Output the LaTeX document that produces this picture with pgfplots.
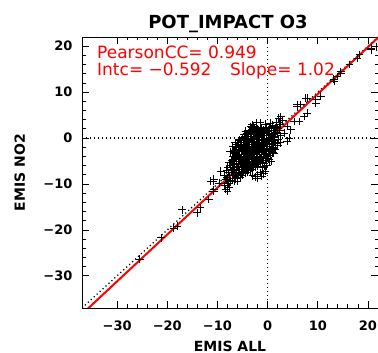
\documentclass[border=0pt]{standalone}
\usepackage{pgfplots}
\pgfplotsset{compat=1.18}
\usepackage{fontspec}
\setmainfont{DejaVu Sans}
\begin{document}
\begin{tikzpicture}[x=1bp,y=1bp]
\begin{axis}[
  at={(82bp,45bp)}, anchor=south west,
  scale only axis, width=296bp, height=271bp,
  xmin=-37, xmax=22, ymin=-37, ymax=22,
  xtick={-30,-20,-10,0,10,20}, ytick={-30,-20,-10,0,10,20},
  xticklabels={−30,−20,−10,0,10,20}, yticklabels={−30,−20,−10,0,10,20},
  minor tick num=4,
  tick align=inside,
  major tick length=7bp, minor tick length=3.5bp,
  axis line style={line width=0.9bp},
  every tick/.style={black, line width=0.8bp},
  ticklabel style={font=\fontsize{13bp}{15bp}\selectfont\bfseries},
  xticklabel style={yshift=-9bp},
  yticklabel style={xshift=-6bp},
  xlabel={EMIS ALL}, ylabel={EMIS NO2},
  label style={font=\fontsize{14bp}{16bp}\selectfont\bfseries},
  xlabel style={at={(rel axis cs:0.5,0)}, anchor=base, yshift=-43bp},
  ylabel style={at={(rel axis cs:0,0.5)}, anchor=base, rotate=0, yshift=57bp},
  clip=true,
]
\addplot[black, line width=1.2bp, dash pattern=on 1.2bp off 2.8bp] coordinates {(0,-37) (0,22)};
\addplot[black, line width=1.2bp, dash pattern=on 1.2bp off 2.8bp] coordinates {(-37,0) (22,0)};
\addplot[black, line width=1.2bp, dash pattern=on 1.2bp off 2.8bp] coordinates {(-37,-37) (22,22)};
\addplot[only marks, mark=+, mark size=3.9bp, mark options={line width=0.9bp, black}] coordinates {
(-25.5,-26.4) (-21.2,-21.7) (-18,-19.2) (-18.7,-19.6) (-17,-15.6) (-14,-16.3) (-13.4,-15.2)
(-11.7,-13.4) (-10.7,-11.2) (-9.7,-9.8)
(-10.8,-9.4) (-8.4,-9) (-8,-11.6) (-6,-9.4) (-10.7,-9) (-11.4,-9.4) (-8.1,-9.8) (-6.7,-9.4)
(-8.4,-11.2) (-10.7,-11.6) (-9.4,-7.2) (-7.7,-5.4)
(-3.1,2.9) (-3.4,2.5) (-4.4,1.5) (-5.7,-0.3) (-6.7,-2.9)
(1.9,-1.1) (3.9,-0.7) (1.2,-3.3) (0.2,-4.6) (-0.7,-6.2) (-2.1,-8.7) (0.9,-2.9) (0.7,-5)
(21.6,19.9) (20.6,19.2) (17.9,17.4) (16.3,16) (14.6,14.1) (13.9,13.4) (13.3,12.3) (10.6,9.1)
(9.6,8.3) (7.9,8.7) (6.6,7.3) (5.9,6.9) (7.9,5.4) (7.3,4.7) (6.3,3.6) (5.3,3.6) (2.6,4.7)
(2.3,3.3) (1.6,2.2) (3.9,2.5) (4.6,1.8) (3.3,1.1) (4.3,0) (5.9,7.3)
(7.6,8.7) (9.6,7.6) (13.2,12.8) (14.6,14.5) (18.3,18.2) (20.6,19.6)
(-8.6,-10.4) (-8.3,-9.1) (-8.7,-8.1) (-8.2,-7.0)
(-7.9,-9.9) (-8.1,-8.6) (-7.8,-7.5) (-8.0,-6.3) (-7.7,-10.8)
(-7.4,-9.5) (-7.6,-8.2) (-7.3,-7.1) (-7.5,-5.9) (-7.2,-4.8)
(-7.0,-9.2) (-6.8,-8.1) (-7.1,-6.8) (-6.9,-5.6) (-7.0,-4.1) (-6.8,-3.1)
(-6.5,-8.9) (-6.6,-7.6) (-6.3,-6.5) (-6.6,-5.1) (-6.4,-4.2) (-6.5,-2.6) (-6.2,-1.8)
(-6.0,-8.7) (-5.9,-7.4) (-6.1,-6.2) (-5.8,-5.0) (-6.0,-3.7) (-5.9,-2.4) (-6.1,-1.3)
(-5.5,-8.5) (-5.6,-7.4) (-5.3,-6.5) (-5.5,-5.2) (-5.4,-4.3) (-5.6,-3.0) (-5.4,-2.0) (-5.5,-0.6)
(-5.0,-8.1) (-4.9,-6.9) (-5.1,-5.7) (-5.0,-4.9) (-4.8,-3.6) (-5.1,-2.3) (-4.9,-1.3) (-5.0,0.1)
(-4.5,-7.6) (-4.4,-6.7) (-4.6,-5.5) (-4.5,-4.4) (-4.3,-3.4) (-4.6,-2.1) (-4.4,-1.0) (-4.5,0.4)
(-4.0,-7.4) (-3.9,-6.2) (-4.1,-5.2) (-4.0,-3.9) (-3.8,-2.9) (-4.1,-1.8) (-3.9,-0.5) (-4.0,0.9)
(-3.5,-7.1) (-3.4,-5.8) (-3.6,-4.6) (-3.5,-3.7) (-3.3,-2.5) (-3.6,-1.3) (-3.4,-0.2) (-3.5,1.2) (-3.2,2.2)
(-3.0,-6.8) (-2.9,-5.6) (-3.1,-4.3) (-3.0,-3.1) (-2.8,-2.0) (-3.1,-0.8) (-2.9,0.3) (-3.0,1.5) (-2.8,2.6)
(-2.5,-6.4) (-2.4,-5.2) (-2.6,-4.0) (-2.5,-2.8) (-2.3,-1.6) (-2.6,-0.4) (-2.4,0.7) (-2.5,1.8)
(-2.0,-6.1) (-1.9,-4.8) (-2.1,-3.5) (-2.0,-2.5) (-1.8,-1.2) (-2.1,-0.2) (-1.9,1.0) (-2.0,2.0)
(-1.5,-5.6) (-1.4,-4.3) (-1.6,-3.2) (-1.5,-2.0) (-1.3,-0.9) (-1.6,0.3) (-1.4,1.3) (-1.5,2.4)
(-1.0,-5.3) (-0.9,-4.0) (-1.1,-2.8) (-1.0,-1.6) (-0.8,-0.5) (-1.1,0.6) (-0.9,1.7)
(-0.5,-4.8) (-0.4,-3.6) (-0.6,-2.3) (-0.5,-1.1) (-0.3,0.0) (-0.6,1.0) (-0.4,2.0)
(0.0,-4.4) (0.1,-3.0) (-0.1,-1.8) (0.0,-0.6) (0.2,0.5) (-0.1,1.5)
(0.5,-3.8) (0.6,-2.5) (0.4,-1.2) (0.5,0.0) (0.7,1.0) (0.4,2.2)
(1.0,-3.2) (1.1,-2.0) (0.9,-0.8) (1.0,0.4) (1.2,1.6)
(1.5,-2.4) (1.6,-1.0) (1.4,0.2) (1.5,1.3) (1.7,2.5)
(2.0,-1.6) (2.1,-0.3) (1.9,0.9) (2.0,2.1)
(2.5,-1.0) (2.6,0.5) (2.4,1.7) (2.5,3.0)
(-1.0,-6.5) (-0.5,-7.2) (-1.5,-7.5) (-2.0,-8.0) (-0.2,-6.0) (0.3,-5.2) (-2.5,-8.4) (-1.2,-8.3) (-3.0,-8.2) (-0.8,-7.8)
(-7.0,-1.8) (-6.5,-1.0) (-7.5,-3.0)
(1.8,3.5) (2.2,4.3) (1.0,2.8) (0.5,3.2) (3.0,3.8) (-0.5,3.0) (-1.5,3.3) (-2.3,3.4)
(-6.75,-7.0) (-6.7,-5.8) (-6.75,-4.6) (-6.7,-3.4)
(-6.25,-8.0) (-6.2,-6.8) (-6.25,-5.6) (-6.2,-4.4) (-6.25,-3.2) (-6.2,-2.1)
(-5.75,-7.9) (-5.7,-6.9) (-5.75,-5.8) (-5.7,-4.7) (-5.75,-3.6) (-5.7,-2.5) (-5.75,-1.4)
(-5.25,-7.7) (-5.2,-6.2) (-5.25,-5.0) (-5.2,-3.9) (-5.25,-2.8) (-5.2,-1.7) (-5.25,-0.6)
(-4.75,-7.3) (-4.7,-6.0) (-4.75,-4.9) (-4.7,-3.9) (-4.75,-2.7) (-4.7,-1.6) (-4.75,-0.4) (-4.7,0.8)
(-4.25,-7.0) (-4.2,-5.8) (-4.25,-4.7) (-4.2,-3.6) (-4.25,-2.4) (-4.2,-1.3) (-4.25,-0.1) (-4.2,1.0)
(-3.75,-6.7) (-3.7,-5.3) (-3.75,-4.1) (-3.7,-3.1) (-3.75,-1.9) (-3.7,-0.8) (-3.75,0.4) (-3.7,1.6)
(-3.25,-6.5) (-3.2,-5.0) (-3.25,-3.8) (-3.2,-2.7) (-3.25,-1.5) (-3.2,-0.3) (-3.25,0.9) (-3.2,1.9)
(-2.75,-6.0) (-2.7,-4.7) (-2.75,-3.4) (-2.7,-2.3) (-2.75,-1.0) (-2.7,0.1) (-2.75,1.2) (-2.7,2.2)
(-2.25,-5.7) (-2.2,-4.4) (-2.25,-3.0) (-2.2,-1.9) (-2.25,-0.7) (-2.2,0.4) (-2.25,1.5)
(-1.75,-5.2) (-1.7,-3.9) (-1.75,-2.6) (-1.7,-1.5) (-1.75,-0.3) (-1.7,0.8) (-1.75,1.8)
(-1.25,-4.8) (-1.2,-3.5) (-1.25,-2.2) (-1.2,-1.1) (-1.25,0.1) (-1.2,1.1) (-1.25,2.1)
(-0.75,-4.3) (-0.7,-3.0) (-0.75,-1.7) (-0.7,-0.6) (-0.75,0.5) (-0.7,1.5)
(-0.25,-3.9) (-0.2,-2.5) (-0.25,-1.2) (-0.2,-0.1) (-0.25,1.0) (-0.2,2.3)
(0.25,-3.3) (0.3,-1.9) (0.25,-0.6) (0.3,0.6) (0.25,1.7)
(0.75,-2.7) (0.8,-1.5) (0.75,-0.2) (0.8,0.9) (0.75,2.0)
(1.25,-2.2) (1.3,-0.5) (1.25,0.8) (1.3,2.0)
};
\addplot[red, line width=2bp] coordinates {(-37,-38.332) (22,21.848)};
\end{axis}
\node[anchor=base, font=\fontsize{18bp}{20bp}\selectfont\bfseries] at (228,325) {POT\_IMPACT O3};
\node[anchor=base west, inner sep=0, red, font=\fontsize{17bp}{19bp}\selectfont] at (97,295) {PearsonCC= 0.949};
\node[anchor=base west, inner sep=0, red, font=\fontsize{17bp}{19bp}\selectfont] at (97,278) {Intc= −0.592};
\node[anchor=base west, inner sep=0, red, font=\fontsize{17bp}{19bp}\selectfont] at (230,278) {Slope= 1.02};
\pgfresetboundingbox
\path[use as bounding box] (0,0) rectangle (378,353);
\end{tikzpicture}
\end{document}
